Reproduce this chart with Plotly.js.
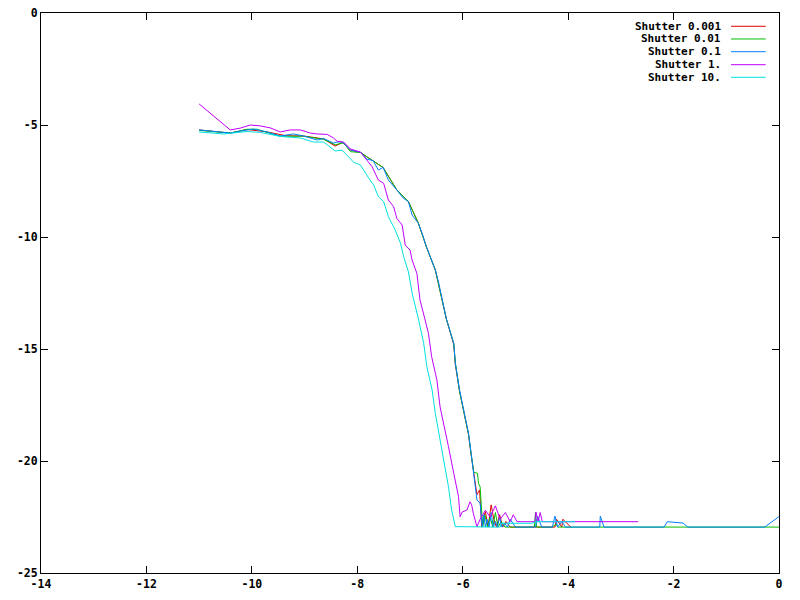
<!DOCTYPE html>
<html>
<head>
<meta charset="utf-8">
<script src="https://cdn.plot.ly/plotly-3.0.1.min.js"></script>
<style>html,body{margin:0;padding:0;background:#fff;}#chart{width:800px;height:600px;}</style>
</head>
<body>
<div id="chart"></div>
<script>
// ---- data ----
const seriesNames = ["Shutter 0.001", "Shutter 0.01", "Shutter 0.1", "Shutter 1.", "Shutter 10."];
const seriesColors = ["#e00000", "#00c000", "#0080ff", "#c000ff", "#00e0e0"];

const redX = [-11.0, -10.41, -10.09, -9.71, -9.35, -9.02, -8.64, -8.42, -8.28, -8.13, -7.94, -7.70, -7.51, -7.25, -7.03, -6.84, -6.69, -6.52, -6.39, -6.31, -6.17, -6.14, -6.06, -5.98, -5.89, -5.84, -5.79, -5.73, -5.68, -5.64, -5.57, -5.52, -5.46, -5.41, -5.36, -5.30, -5.24, -5.18, -5.10, -5.02, -4.50, -4.25, -4.22, -4.12, -4.10, -3.95];
const redY = [-5.22, -5.36, -5.20, -5.31, -5.48, -5.49, -5.62, -5.94, -5.78, -6.12, -6.23, -6.60, -6.90, -7.90, -8.42, -9.39, -10.43, -11.47, -12.74, -13.66, -14.80, -15.70, -16.88, -17.80, -18.82, -19.72, -20.60, -21.50, -21.29, -22.95, -22.26, -22.95, -21.96, -22.60, -22.95, -22.40, -22.95, -22.70, -22.95, -22.95, -22.95, -22.95, -22.60, -22.95, -22.60, -22.95];

const greenX = [-11.0, -10.41, -10.09, -9.90, -9.71, -9.46, -9.02, -8.64, -8.42, -8.26, -8.13, -7.94, -7.70, -7.51, -7.25, -7.03, -6.84, -6.69, -6.52, -6.39, -6.31, -6.17, -6.14, -6.06, -5.98, -5.89, -5.84, -5.79, -5.72, -5.70, -5.67, -5.62, -5.58, -5.53, -5.48, -5.43, -5.38, -5.33, -5.27, -5.20, -5.12, -4.64, -4.62, -4.60, -4.30, -4.22, -4.20, -4.0, 0.0];
const greenY = [-5.24, -5.36, -5.19, -5.19, -5.33, -5.50, -5.50, -5.64, -5.88, -5.80, -6.19, -6.23, -6.60, -6.90, -7.90, -8.42, -9.39, -10.43, -11.47, -12.74, -13.66, -14.75, -15.60, -16.90, -17.78, -18.80, -19.70, -20.50, -20.55, -21.00, -21.15, -22.95, -22.40, -22.95, -22.50, -22.95, -22.30, -22.95, -22.70, -22.95, -22.95, -22.95, -22.30, -22.95, -22.95, -22.80, -22.95, -22.95, -22.95];

const blueX = [-11.0, -10.73, -10.41, -10.16, -9.97, -9.71, -9.46, -9.21, -9.02, -8.76, -8.64, -8.45, -8.38, -8.28, -8.13, -7.94, -7.82, -7.70, -7.60, -7.51, -7.41, -7.25, -7.13, -7.03, -6.96, -6.84, -6.77, -6.69, -6.62, -6.52, -6.46, -6.39, -6.31, -6.17, -6.14, -6.06, -5.98, -5.89, -5.84, -5.79, -5.73, -5.67, -5.63, -5.60, -5.57, -5.54, -5.50, -5.46, -5.42, -5.38, -5.34, -5.30, -5.26, -5.20, -5.15, -5.10, -5.00, -4.90, -4.62, -4.58, -4.50, -4.30, -4.25, -4.20, -4.12, -4.05, -3.95, -3.40, -3.39, -3.32, -2.18, -2.12, -1.82, -1.73, -0.27, 0.0];
const blueY = [-5.22, -5.27, -5.36, -5.25, -5.18, -5.31, -5.49, -5.40, -5.49, -5.67, -5.60, -5.81, -5.76, -5.76, -6.12, -6.21, -6.52, -6.59, -7.01, -6.89, -7.46, -7.90, -8.26, -8.42, -9.02, -9.39, -9.83, -10.43, -10.88, -11.47, -12.00, -12.74, -13.66, -14.75, -15.64, -16.83, -17.72, -18.76, -19.66, -20.55, -21.74, -21.88, -22.95, -22.40, -22.95, -22.60, -22.95, -22.30, -22.95, -22.70, -22.95, -22.50, -22.95, -22.80, -22.95, -22.60, -22.95, -22.95, -22.95, -22.46, -22.95, -22.95, -22.46, -22.95, -22.70, -22.95, -22.95, -22.95, -22.46, -22.95, -22.95, -22.71, -22.77, -22.95, -22.95, -22.48];

const magentaX = [-11.0, -10.41, -10.22, -10.03, -9.84, -9.65, -9.46, -9.27, -9.08, -8.89, -8.76, -8.57, -8.45, -8.38, -8.26, -8.13, -7.94, -7.82, -7.72, -7.60, -7.50, -7.41, -7.31, -7.25, -7.15, -7.09, -7.00, -6.96, -6.87, -6.81, -6.75, -6.65, -6.59, -6.49, -6.43, -6.36, -6.27, -6.17, -6.08, -6.05, -6.01, -5.92, -5.86, -5.83, -5.80, -5.73, -5.67, -5.57, -5.48, -5.38, -5.29, -5.19, -5.10, -5.04, -4.97, -4.63, -4.61, -4.57, -4.53, -4.49, -2.67];
const magentaY = [-4.06, -5.22, -5.14, -5.00, -5.04, -5.13, -5.31, -5.22, -5.22, -5.36, -5.40, -5.42, -5.58, -5.73, -5.76, -6.07, -6.21, -6.56, -6.86, -7.46, -7.60, -8.35, -8.65, -9.17, -9.46, -10.36, -10.58, -11.03, -11.62, -12.81, -13.41, -14.30, -15.34, -16.38, -17.58, -18.32, -19.36, -20.55, -21.59, -22.49, -22.28, -22.19, -21.82, -21.96, -22.33, -22.93, -22.60, -22.20, -22.50, -22.00, -22.60, -22.30, -22.71, -22.40, -22.71, -22.71, -22.28, -22.71, -22.30, -22.71, -22.71];

const cyanX = [-11.0, -10.54, -10.09, -9.84, -9.46, -9.08, -8.83, -8.64, -8.42, -8.29, -8.07, -7.94, -7.78, -7.69, -7.60, -7.50, -7.41, -7.28, -7.18, -7.12, -7.03, -6.96, -6.84, -6.74, -6.68, -6.58, -6.52, -6.43, -6.33, -6.27, -6.21, -6.14, -5.29, -5.27, -4.69, -4.60, -3.87];
const cyanY = [-5.31, -5.40, -5.29, -5.33, -5.51, -5.58, -5.76, -5.76, -6.16, -6.12, -6.66, -6.79, -7.38, -7.68, -8.20, -8.42, -9.09, -9.69, -10.28, -10.88, -11.55, -12.51, -13.66, -14.75, -15.79, -16.83, -17.87, -19.06, -20.25, -21.15, -22.19, -22.93, -22.95, -22.78, -22.78, -22.71, -22.71];

const xTickVals = [-14, -12, -10, -8, -6, -4, -2, 0];
const xTickText = ["-14", "-12", "-10", "-8", "-6", "-4", "-2", "0"];
const yTickVals = [0, -5, -10, -15, -20, -25];
const yTickText = ["0", "-5", "-10", "-15", "-20", "-25"];

// ---- build ----
const xs = [redX, greenX, blueX, magentaX, cyanX];
const ys = [redY, greenY, blueY, magentaY, cyanY];
const traces = seriesNames.map((n, i) => ({
  type: 'scatter', mode: 'lines', name: n, x: xs[i], y: ys[i],
  line: {color: seriesColors[i], width: 1}, showlegend: false, hoverinfo: 'skip'
}));

const font = {family: 'DejaVu Sans Mono, Liberation Mono, monospace', size: 11.5, color: '#000', weight: 'bold'};
const legendFont = {family: 'DejaVu Sans Mono, Liberation Mono, monospace', size: 11, color: '#000', weight: 'bold'};

const axisCommon = {
  showgrid: false, zeroline: false, showline: true, linecolor: '#000', linewidth: 1,
  mirror: 'ticks', ticks: 'inside', ticklen: 7, tickwidth: 1, tickcolor: '#000',
  tickmode: 'array', tickfont: font, automargin: false, fixedrange: true
};

// legend in gnuplot style: right-aligned text, line sample to the right
const rowY = [0.9763, 0.9536, 0.9309, 0.9077, 0.8852];
const annotations = seriesNames.map((n, i) => ({
  xref: 'paper', yref: 'paper', x: 0.9228, y: rowY[i], xanchor: 'right', yanchor: 'middle',
  text: n, showarrow: false, font: legendFont, borderpad: 0
}));
const shapes = seriesNames.map((n, i) => ({
  type: 'line', xref: 'paper', yref: 'paper', x0: 0.935, x1: 0.982, y0: rowY[i], y1: rowY[i],
  line: {color: seriesColors[i], width: 1}
}));

const layout = {
  width: 800, height: 600,
  margin: {l: 41, r: 21, t: 13, b: 27, pad: 0},
  paper_bgcolor: '#fff', plot_bgcolor: '#fff',
  showlegend: false,
  xaxis: Object.assign({}, axisCommon, {range: [-14, 0], tickvals: xTickVals, ticktext: xTickText}),
  yaxis: Object.assign({}, axisCommon, {range: [-25, 0], tickvals: yTickVals, ticktext: yTickText}),
  annotations: annotations,
  shapes: shapes
};

Plotly.newPlot('chart', traces, layout, {staticPlot: true, displayModeBar: false});
</script>
</body>
</html>
